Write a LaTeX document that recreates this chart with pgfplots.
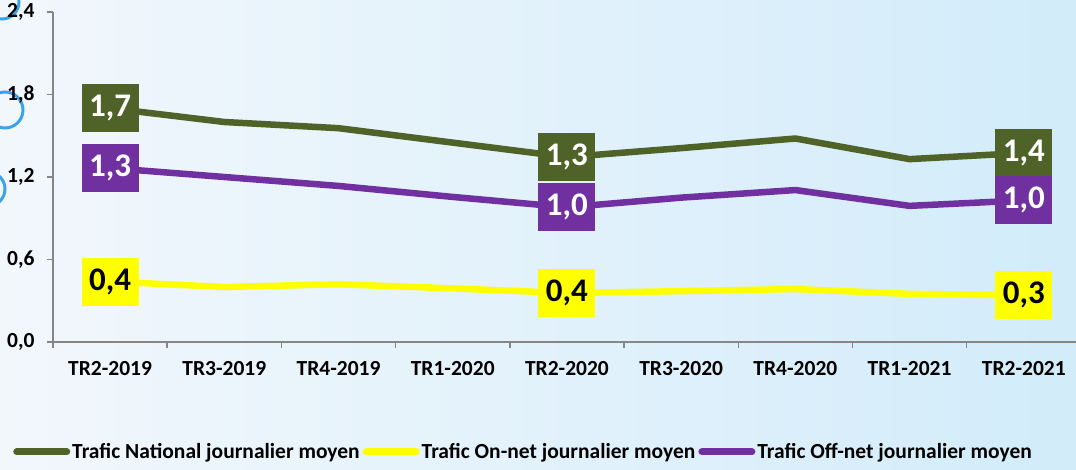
\documentclass[border=0pt]{standalone}
\usepackage{fontspec}
\setmainfont{Carlito}
\usepackage{pgfplots}
\pgfplotsset{compat=1.18}
\usepackage{pgfplotstable}

\definecolor{natl}{RGB}{79,98,40}
\definecolor{onnet}{RGB}{255,255,0}
\definecolor{offnet}{RGB}{112,48,160}
\definecolor{axgray}{RGB}{134,134,134}
\definecolor{bgl}{RGB}{242,247,252}
\definecolor{bgr}{RGB}{210,236,250}
\definecolor{ring}{RGB}{59,164,232}

% trafic journalier moyen par trimestre
\pgfplotstableread{
x national onnet offnet
0 1.70  0.44  1.265
1 1.60  0.40  1.20
2 1.555 0.42  1.135
3 1.45  0.39  1.055
4 1.345 0.356 0.98
5 1.41  0.37  1.05
6 1.48  0.385 1.105
7 1.33  0.35  0.99
8 1.375 0.34  1.03
}\trafic

% valeurs affichees
\pgfplotstableread{
x national nlbl onnet olbl offnet flbl
0 1.70  1,7 0.44  0,4 1.265 1,3
4 1.345 1,3 0.356 0,4 0.98  1,0
8 1.375 1,4 0.34  0,3 1.03  1,0
}\labels

\tikzset{boxlbl/.style={anchor=center, inner sep=0pt, minimum width=57pt,
  minimum height=48pt, font=\fontsize{33}{36}\selectfont\bfseries}}

\begin{document}
\begin{tikzpicture}
\shade[left color=bgl, right color=bgr] (0pt,0pt) rectangle (1076pt,469pt);
\useasboundingbox (0pt,0pt) rectangle (1076pt,469pt);
% decorative rings at the left edge
\draw[ring, line width=3pt] (2pt,467pt) circle (17pt);
\draw[ring, line width=3pt] (5pt,359pt) circle (18pt);
\draw[ring, line width=3pt] (-12pt,280pt) circle (17pt);

\begin{axis}[
    at={(53pt,127pt)}, anchor=south west,
    scale only axis, width=1028pt, height=330pt,
    xmin=-0.5, xmax=8.5, ymin=0, ymax=2.4,
    axis lines=left,
    axis line style={axgray, line width=1.5pt, -},
    tick style={axgray, line width=1.5pt},
    tick align=outside, major tick length=6pt, minor tick length=6pt,
    xtick={0,1,2,3,4,5,6,7,8},
    major x tick style={draw=none},
    minor xtick={-0.5,0.5,1.5,2.5,3.5,4.5,5.5,6.5,7.5,8.5},
    xticklabels={TR2-2019,TR3-2019,TR4-2019,TR1-2020,TR2-2020,TR3-2020,TR4-2020,TR1-2021,TR2-2021},
    ytick={0,0.6,1.2,1.8,2.4},
    ticklabel style={font=\fontsize{21.5}{24}\selectfont\bfseries},
    xticklabel style={yshift=-10pt},
    yticklabel style={xshift=-9pt, /pgf/number format/.cd, fixed, fixed zerofill,
      precision=1, use comma, assume math mode=true},
    legend columns=3,
    legend style={at={(-0.0418,-0.333)}, anchor=west, draw=none, fill=none,
      font=\fontsize{21.5}{24}\selectfont\bfseries,
      /tikz/every even column/.append style={column sep=1pt}},
    legend image code/.code={\draw[line width=7pt, line cap=round] (0pt,0pt) -- (50pt,0pt);},
    clip=false,
]
\addplot[natl, line width=6.5pt, line join=round] table[x=x, y=national] {\trafic};
\addlegendentry{Trafic National journalier moyen}
\addplot[onnet, line width=6.5pt, line join=round] table[x=x, y=onnet] {\trafic};
\addlegendentry{Trafic On-net journalier moyen}
\addplot[offnet, line width=6.5pt, line join=round] table[x=x, y=offnet] {\trafic};
\addlegendentry{Trafic Off-net journalier moyen}

% value boxes
\addplot[only marks, mark=none, forget plot, nodes near coords, point meta=explicit symbolic,
  nodes near coords style={boxlbl, fill=natl, text=white}] table[x=x, y=national, meta=nlbl] {\labels};
\addplot[only marks, mark=none, forget plot, nodes near coords, point meta=explicit symbolic,
  nodes near coords style={boxlbl, fill=offnet, text=white}] table[x=x, y=offnet, meta=flbl] {\labels};
\addplot[only marks, mark=none, forget plot, nodes near coords, point meta=explicit symbolic,
  nodes near coords style={boxlbl, fill=onnet, text=black}] table[x=x, y=onnet, meta=olbl] {\labels};
\end{axis}
\end{tikzpicture}
\end{document}
